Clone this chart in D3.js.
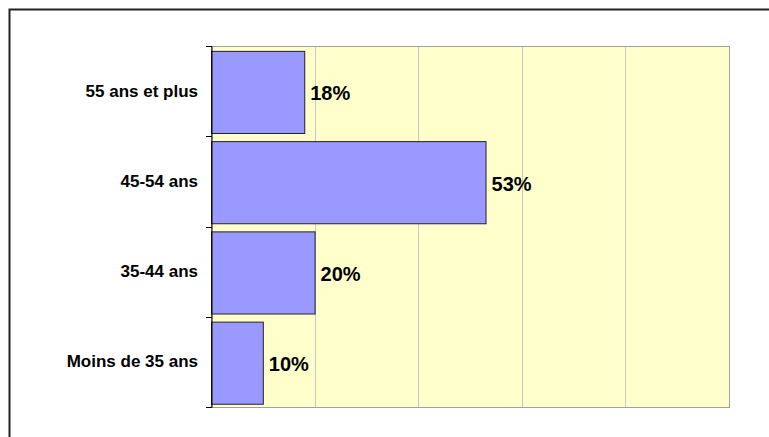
<!DOCTYPE html>
<html><head><meta charset="utf-8">
<script src="https://cdn.jsdelivr.net/npm/d3@7"></script>
<style>body{margin:0;background:#fff}svg{display:block}</style>
</head><body>
<svg id="c" width="769" height="437"></svg>
<script>
const categories = ["55 ans et plus", "45-54 ans", "35-44 ans", "Moins de 35 ans"];
const values = [18, 53, 20, 10];
const xTicks = [0, 20, 40, 60, 80, 100];

const svg = d3.select("#c");
const m = {left: 211, top: 46, right: 729, bottom: 407};

// outer frame
svg.append("rect").attr("x", 9.5).attr("y", 9.5).attr("width", 800).attr("height", 500)
  .attr("fill", "none").attr("stroke", "#222").attr("stroke-width", 2);

const x = d3.scaleLinear().domain([0, 100]).range([m.left, m.right]);
const y = d3.scaleBand().domain(categories).range([m.top, m.bottom]).paddingInner(0.09).paddingOuter(0.045).align(0.6);
const yb = d3.scaleBand().domain(categories).range([m.top, m.bottom]);

svg.append("rect").attr("x", m.left).attr("y", m.top).attr("width", m.right - m.left).attr("height", m.bottom - m.top)
  .attr("fill", "#ffffcc");

svg.append("g").selectAll("line").data(xTicks.slice(1, -1)).join("line")
  .attr("x1", d => Math.round(x(d)) + 0.5).attr("x2", d => Math.round(x(d)) + 0.5)
  .attr("y1", m.top).attr("y2", m.bottom).attr("stroke", "#c8c8c8").attr("stroke-width", 1);

svg.append("rect").attr("x", m.left + 0.5).attr("y", m.top + 0.5).attr("width", m.right - m.left).attr("height", m.bottom - m.top)
  .attr("fill", "none").attr("stroke", "#a0a0a0").attr("stroke-width", 1);

svg.append("g").selectAll("rect").data(values).join("rect")
  .attr("x", x(0) + 0.5).attr("y", (d, i) => y(categories[i]) + 0.5)
  .attr("width", d => x(d) - x(0)).attr("height", y.bandwidth())
  .attr("fill", "#9999ff").attr("stroke", "#222").attr("stroke-width", 1);

const ax = d3.axisLeft(yb).tickSize(0).tickFormat("");
const ga = svg.append("g").attr("transform", `translate(${m.left + 0.5},0)`).call(ax);
ga.select(".domain").attr("stroke", "#000");
// ticks at band boundaries
const bounds = categories.map(c => yb(c)).concat([m.bottom]);
svg.append("g").selectAll("line").data(bounds).join("line")
  .attr("x1", m.left - 5).attr("x2", m.left + 1)
  .attr("y1", d => Math.round(d) + 0.5).attr("y2", d => Math.round(d) + 0.5)
  .attr("stroke", "#000");

svg.append("g").selectAll("text").data(categories).join("text")
  .attr("x", 198).attr("y", d => yb(d) + yb.bandwidth() / 2)
  .attr("text-anchor", "end").attr("dominant-baseline", "central")
  .attr("font-family", "Liberation Sans, Arial, sans-serif").attr("font-weight", "bold").attr("font-size", 17)
  .text(d => d);

svg.append("g").selectAll("text").data(values).join("text")
  .attr("x", d => x(d) + 6).attr("y", (d, i) => y(categories[i]) + y.bandwidth() / 2 + 1.5)
  .attr("dominant-baseline", "central")
  .attr("font-family", "Liberation Sans, Arial, sans-serif").attr("font-weight", "bold").attr("font-size", 20)
  .text(d => d + "%");
</script>
</body></html>
